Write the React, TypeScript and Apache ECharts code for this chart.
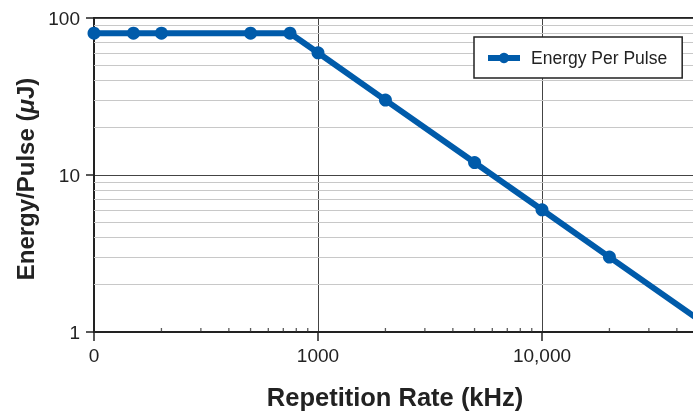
import React, { useEffect, useRef } from "react";
import * as echarts from "echarts";

const repRateKHz = [100, 150, 200, 500, 750, 1000, 2000, 5000, 10000, 20000, 50000];
const energyUJ = [80, 80, 80, 80, 80, 60, 30, 12, 6, 3, 1.2];
const seriesName = "Energy Per Pulse";

const xTickValues = [100, 1000, 10000];
const xTickLabels = ["0", "1000", "10,000"];
const xMinorTicks = [200, 300, 400, 500, 600, 700, 800, 900, 2000, 3000, 4000, 5000, 6000, 7000, 8000, 9000, 20000, 30000, 40000];
const yMinorGrid = [2, 3, 4, 5, 6, 7, 8, 9, 20, 30, 40, 50, 60, 70, 80, 90];

const FONT = "'Liberation Sans', Arial, Helvetica, sans-serif";
const BLUE = "#005BAA";

export default function App() {
  const ref = useRef<HTMLDivElement>(null);
  useEffect(() => {
    if (!ref.current) return;
    const chart = echarts.init(ref.current, null, { renderer: "svg" });
    const fmtX = (v: number) => {
      const i = xTickValues.findIndex((t) => Math.abs(v - t) / t < 1e-6);
      return i >= 0 ? xTickLabels[i] : "";
    };
    const titleStyle = { fontSize: 24, fontWeight: "bold", color: "#222", fontFamily: FONT };
    chart.setOption({
      animation: false,
      textStyle: { fontFamily: FONT },
      grid: {
        left: 94,
        top: 18,
        right: -3,
        bottom: 80,
        containLabel: false,
        outerBoundsMode: "none",
        show: true,
        borderColor: "#222",
        borderWidth: 2,
        backgroundColor: "transparent",
      },
      legend: {
        show: true,
        z: 20,
        left: 474,
        top: 37,
        orient: "vertical",
        backgroundColor: "#fff",
        borderColor: "#222",
        borderWidth: 1.5,
        borderRadius: 0,
        padding: [12, 15, 11, 11],
        itemWidth: 32,
        itemHeight: 13,
        lineStyle: { width: 6, color: BLUE },
        itemStyle: { color: BLUE },
        data: [seriesName],
        textStyle: { fontSize: 17.5, color: "#222", fontFamily: FONT, padding: [0, 0, 0, 6] },
      },
      xAxis: [
        {
          type: "log",
          logBase: 10,
          min: 100,
          max: 48700,
          name: "Repetition Rate (kHz)",
          nameLocation: "middle",
          nameGap: 52,
          nameTextStyle: { ...titleStyle, fontSize: 25.5 },
          axisLine: { show: true, lineStyle: { color: "#222", width: 2 } },
          axisTick: { show: true, length: 9, lineStyle: { color: "#222", width: 1.5 } },
          minorTick: { show: false },
          axisLabel: { formatter: fmtX, fontSize: 19, color: "#222", margin: 14, fontFamily: FONT },
          splitLine: { show: true, lineStyle: { color: "#444", width: 1 } },
        },
      ],
      yAxis: [
        {
          type: "log",
          logBase: 10,
          min: 1,
          max: 100,
          name: "Energy/Pulse ({i|\u03bc}J)",
          nameLocation: "middle",
          nameGap: 52,
          nameTextStyle: {
            ...titleStyle,
            padding: [0, 8, 0, 0],
            rich: { i: { ...titleStyle, fontStyle: "italic" } },
          },
          axisLine: { show: true, lineStyle: { color: "#222", width: 2 } },
          axisTick: { show: true, length: 8, lineStyle: { color: "#222", width: 1.5 } },
          axisLabel: { fontSize: 19, color: "#222", margin: 14, fontFamily: FONT },
          splitLine: { show: true, lineStyle: { color: "#444", width: 1 } },
        },
      ],
      series: [
        {
          name: "minorGrid",
          type: "line",
          data: [],
          silent: true,
          z: 1,
          markLine: {
            silent: true,
            z: 1,
            symbol: "none",
            label: { show: false },
            lineStyle: { color: "#c8c8c8", width: 1, type: "solid" },
            data: yMinorGrid.map((v) => ({ yAxis: v })),
          },
        },
        {
          name: "minorTicks",
          type: "scatter",
          silent: true,
          clip: false,
          z: 3,
          symbol: "rect",
          symbolSize: [1.3, 4],
          symbolOffset: [0, -2],
          itemStyle: { color: "#333" },
          data: xMinorTicks.map((v) => [v, 1]),
        },
        {
          name: seriesName,
          type: "line",
          z: 4,
          data: repRateKHz.map((x, i) => [x, energyUJ[i]]),
          symbol: "circle",
          symbolSize: 13,
          clip: true,
          lineStyle: { color: BLUE, width: 6 },
          itemStyle: { color: BLUE },
        },
      ],
    });
    return () => chart.dispose();
  }, []);
  return (
    <div
      ref={ref}
      style={{ position: "fixed", left: 0, top: 0, width: 693, height: 412 }}
    />
  );
}
